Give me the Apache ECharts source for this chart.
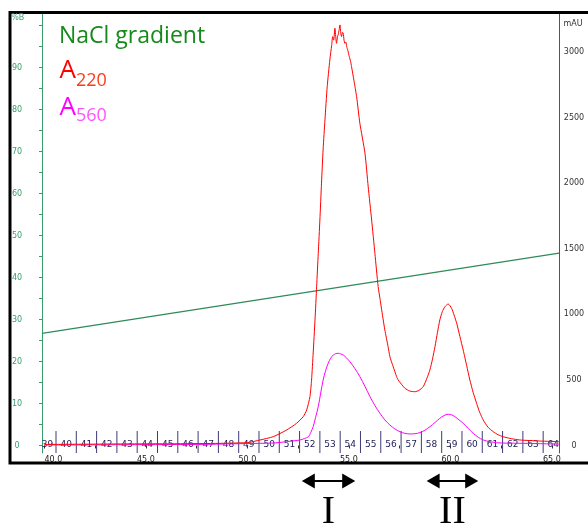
<!DOCTYPE html>
<html><head><meta charset="utf-8">
<script src="https://cdn.jsdelivr.net/npm/echarts@6/dist/echarts.min.js"></script>
<style>html,body{margin:0;padding:0;background:#fff}#c{width:588px;height:527px}</style>
</head><body><div id="c"></div>
<script>
// ---- data ----
const volumeA220 = [40.0,42.0,44.0,46.0,48.0,50.0,50.62,51.27,51.93,52.42,52.75,52.92,53.08,53.16,53.24,53.33,53.41,53.49,53.57,53.65,53.73,53.82,53.93,54.06,54.15,54.20,54.25,54.31,54.36,54.39,54.44,54.47,54.52,54.56,54.60,54.64,54.68,54.72,54.76,54.80,54.85,54.89,54.95,55.02,55.08,55.13,55.25,55.38,55.54,55.79,55.95,56.12,56.28,56.44,56.53,56.69,56.77,56.93,57.02,57.18,57.35,57.43,57.76,58.0,58.25,58.45,58.66,58.85,58.99,59.12,59.24,59.36,59.48,59.60,59.73,59.89,60.06,60.18,60.31,60.47,60.63,60.80,60.96,61.12,61.29,61.45,61.62,61.85,62.11,62.35,62.60,63.0,63.42,64.41,65.35];
const a220 = [8,10,12,13,15,22,42,67,118,169,220,271,372,499,705,957,1211,1465,1719,2000,2260,2482,2735,2939,3050,3117,3090,3181,3100,3066,3120,3130,3170,3206,3140,3117,3150,3143,3090,3066,3075,3040,3010,2964,2930,2888,2780,2659,2456,2230,1973,1719,1465,1211,1120,957,881,753,677,601,525,499,436,415,410,420,448,515,576,660,753,860,957,1020,1058,1079,1046,995,932,830,728,610,499,405,322,250,194,140,105,82,67,52,42,34,29];
const volumeA560 = [40.0,44.0,48.0,49.96,51.27,51.93,52.3,52.59,53.0,53.12,53.24,53.36,53.49,53.61,53.73,53.85,53.98,54.1,54.23,54.35,54.47,54.6,54.72,54.88,55.05,55.3,55.54,55.8,56.04,56.28,56.53,56.77,57.02,57.26,57.51,57.75,58.0,58.25,58.5,58.75,58.99,59.24,59.48,59.68,59.89,60.05,60.22,60.42,60.63,60.88,61.12,61.37,61.62,61.95,62.28,62.8,63.42,65.35];
const a560 = [4,6,9,15,19,29,36,42,67,100,143,215,296,400,499,570,627,665,690,700,703,698,690,668,639,585,525,448,372,305,245,195,156,127,105,93,88,90,98,117,143,175,207,228,238,234,220,196,169,130,93,63,42,29,21,18,17,11];
const gradientVolume = [39.88, 65.35];
const gradientPercentB = [26.7, 45.8];
const fractionNumbers = [39,40,41,42,43,44,45,46,47,48,49,50,51,52,53,54,55,56,57,58,59,60,61,62,63,64];
const fractionStarts = [39.57,40.57,41.57,42.57,43.57,44.57,45.57,46.57,47.57,48.57,49.57,50.57,51.57,52.57,53.57,54.57,55.57,56.57,57.57,58.57,59.57,60.57,61.57,62.57,63.57,64.57];
const xTickValues = [40,42.5,45,47.5,50,52.5,55,57.5,60,62.5,65];
const xLabelValues = [40,45,50,55,60,65];
const leftTickValues = [0,5,10,15,20,25,30,35,40,45,50,55,60,65,70,75,80,85,90,95,100];
const leftLabelValues = [0,10,20,30,40,50,60,70,80,90];
const rightLabelValues = [0,500,1000,1500,2000,2500,3000];
const peakNames = ['I', 'II'];
const peakStart = [52.68, 58.83];
const peakEnd = [55.31, 61.37];

const X_MIN = 39.88, X_MAX = 65.35;
const GREEN_AXIS = '#3a9d6e';

const chart = echarts.init(document.getElementById('c'), null, {renderer: 'canvas'});

chart.setOption({
  animation: false,
  backgroundColor: '#fff',
  grid: [
    {left: 42, right: 29, top: 13, bottom: 74},
    {left: 42, right: 29, top: 431, height: 22}
  ],
  xAxis: [
    {
      type: 'value', gridIndex: 0, min: X_MIN, max: X_MAX,
      axisLine: {show: false},
      axisTick: {show: true, customValues: xTickValues, length: 3, lineStyle: {color: '#333'}},
      axisLabel: {customValues: xLabelValues, formatter: v => v.toFixed(1), margin: 3,
        fontSize: 8, fontFamily: 'DejaVu Sans', color: '#222', alignMinLabel: 'left'},
      splitLine: {show: false}
    },
    {
      type: 'value', gridIndex: 1, min: X_MIN, max: X_MAX, show: false
    }
  ],
  yAxis: [
    {
      type: 'value', gridIndex: 0, position: 'left', min: -1.79, max: 103,
      axisLine: {show: true, lineStyle: {color: GREEN_AXIS, width: 1}},
      axisTick: {show: true, customValues: leftTickValues, length: 3, lineStyle: {color: GREEN_AXIS}},
      axisLabel: {customValues: leftLabelValues, align: 'center', margin: 25,
        formatter: v => String(v),
        fontSize: 8, fontFamily: 'DejaVu Sans', color: GREEN_AXIS},
      splitLine: {show: false}
    },
    {
      type: 'value', gridIndex: 0, position: 'right', min: -57.2, max: 3297,
      axisLine: {show: true, lineStyle: {color: '#555', width: 1}},
      axisTick: {show: false},
      axisLabel: {customValues: rightLabelValues, align: 'center', margin: 15,
        formatter: v => String(v),
        fontSize: 8, fontFamily: 'DejaVu Sans', color: '#333'},
      splitLine: {show: false}
    },
    {
      type: 'value', gridIndex: 1, min: 0, max: 1, show: false
    }
  ],
  series: [
    {
      type: 'custom', xAxisIndex: 1, yAxisIndex: 2, z: 1, silent: true,
      data: fractionNumbers.map((n, i) => [fractionStarts[i], n]),
      renderItem: function (params, api) {
        const start = api.value(0);
        const num = api.value(1);
        const top = api.coord([start, 1]);
        const bot = api.coord([start, 0]);
        const mid = api.coord([start + 0.5, 0.4]);
        const children = [];
        if (start > X_MIN) {
          children.push({type: 'line', shape: {x1: top[0], y1: top[1], x2: bot[0], y2: bot[1]},
            style: {stroke: '#3c3c78', lineWidth: 1}});
        }
        children.push({type: 'text', style: {text: String(num), x: Math.max(mid[0], 47.5), y: mid[1],
          align: 'center', verticalAlign: 'middle', fill: '#1c1c55', fontSize: 9, fontFamily: 'DejaVu Sans'}});
        return {type: 'group', children: children};
      }
    },
    {
      name: 'NaCl gradient', type: 'line', xAxisIndex: 0, yAxisIndex: 0, z: 3,
      data: gradientVolume.map((v, i) => [v, gradientPercentB[i]]),
      showSymbol: false, symbol: 'none',
      lineStyle: {color: '#2e8b57', width: 1.2}
    },
    {
      name: 'A560', type: 'line', xAxisIndex: 0, yAxisIndex: 1, z: 4,
      data: volumeA560.map((v, i) => [v, a560[i]]),
      showSymbol: false, symbol: 'none', smooth: 0.3,
      lineStyle: {color: '#ff00ff', width: 1}
    },
    {
      name: 'A220', type: 'line', xAxisIndex: 0, yAxisIndex: 1, z: 5,
      data: volumeA220.map((v, i) => [v, a220[i]]),
      showSymbol: false, symbol: 'none', smooth: 0.2,
      lineStyle: {color: '#ff0000', width: 1}
    }
  ]
});

// ---- annotations (positions from axis scales) ----
const g = [];
g.push({type: 'rect', shape: {x: 10, y: 12.5, width: 620, height: 450.5},
  style: {fill: 'none', stroke: '#000', lineWidth: 3}, z: 10});
g.push({type: 'text', style: {text: '%B', x: 17.7, y: 17.5, align: 'center', verticalAlign: 'middle',
  fill: GREEN_AXIS, fontSize: 8, fontFamily: 'DejaVu Sans'}, z: 10});
g.push({type: 'text', style: {text: 'mAU', x: 573, y: 24, align: 'center', verticalAlign: 'middle',
  fill: '#333', fontSize: 8, fontFamily: 'DejaVu Sans'}, z: 10});
// legend texts
g.push({type: 'text', style: {text: 'NaCl gradient', x: 59, y: 36.7, align: 'left', verticalAlign: 'middle',
  fill: '#15891a', fontSize: 23, fontFamily: 'Open Sans'}, z: 10});
g.push({type: 'text', style: {text: 'A', x: 59.5, y: 71, align: 'left', verticalAlign: 'middle',
  fill: '#ff0000', fontSize: 26, fontFamily: 'Open Sans'}, z: 10});
g.push({type: 'text', style: {text: '220', x: 76, y: 80.6, align: 'left', verticalAlign: 'middle',
  fill: '#ff3a1a', fontSize: 18, fontFamily: 'Open Sans'}, z: 10});
g.push({type: 'text', style: {text: 'A', x: 59.5, y: 107.4, align: 'left', verticalAlign: 'middle',
  fill: '#ff00ff', fontSize: 26, fontFamily: 'Open Sans'}, z: 10});
g.push({type: 'text', style: {text: '560', x: 76, y: 116.1, align: 'left', verticalAlign: 'middle',
  fill: '#ff55ff', fontSize: 18, fontFamily: 'Open Sans'}, z: 10});
// peak range arrows
const arrowY = 481, head = 13, halfH = 7.5;
peakNames.forEach((name, i) => {
  const x1 = chart.convertToPixel({xAxisIndex: 0}, peakStart[i]);
  const x2 = chart.convertToPixel({xAxisIndex: 0}, peakEnd[i]);
  g.push({type: 'line', shape: {x1: x1 + head - 1, y1: arrowY, x2: x2 - head + 1, y2: arrowY},
    style: {stroke: '#000', lineWidth: 2}, z: 10});
  g.push({type: 'polygon', shape: {points: [[x1, arrowY], [x1 + head, arrowY - halfH], [x1 + head, arrowY + halfH]]},
    style: {fill: '#000'}, z: 10});
  g.push({type: 'polygon', shape: {points: [[x2, arrowY], [x2 - head, arrowY - halfH], [x2 - head, arrowY + halfH]]},
    style: {fill: '#000'}, z: 10});
  g.push({type: 'text', style: {text: name, x: (x1 + x2) / 2, y: 512, align: 'center', verticalAlign: 'middle',
    fill: '#000', fontSize: 40, fontFamily: 'Liberation Serif'}, z: 10});
});
chart.setOption({graphic: g});
</script>
</body></html>
